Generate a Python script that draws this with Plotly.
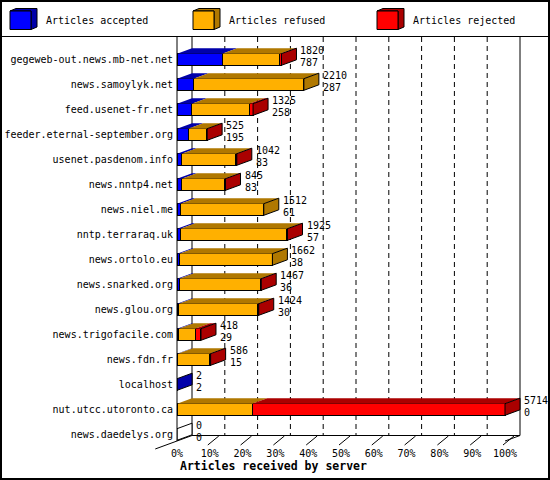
import plotly.graph_objects as go

# ---------------- data ----------------
categories = [
    "gegeweb-out.news.mb-net.net", "news.samoylyk.net", "feed.usenet-fr.net",
    "feeder.eternal-september.org", "usenet.pasdenom.info", "news.nntp4.net",
    "news.niel.me", "nntp.terraraq.uk", "news.ortolo.eu", "news.snarked.org",
    "news.glou.org", "news.trigofacile.com", "news.fdn.fr", "localhost",
    "nut.utcc.utoronto.ca", "news.daedelys.org",
]
accepted = [787, 287, 258, 195, 83, 83, 61, 57, 38, 36, 30, 29, 15, 2, 0, 0]
refused = [1007, 1923, 1002, 322, 940, 736, 1451, 1854, 1624, 1410, 1369, 285, 548, 0, 1312, 0]
rejected = [26, 0, 65, 8, 19, 26, 0, 14, 0, 21, 25, 104, 23, 0, 4402, 0]
totals = [1820, 2210, 1325, 525, 1042, 845, 1512, 1925, 1662, 1467, 1424, 418, 586, 2, 5714, 0]
tick_values = [0, 10, 20, 30, 40, 50, 60, 70, 80, 90, 100]
tick_labels = ["0%", "10%", "20%", "30%", "40%", "50%", "60%", "70%", "80%", "90%", "100%"]
series_names = ["Articles accepted", "Articles refused", "Articles rejected"]
x_title = "Articles received by server"

# ---------------- style ----------------
front_colors = ["#0000ff", "#ffb000", "#ff0000"]
dark_colors = ["#0000aa", "#b07800", "#aa0000"]
FONT = "DejaVu Sans Mono"

W, H = 550, 480
ML, MR, MT, MB = 177, 0, 37, 39
PX_PER_PCT = 3.28
PX_PER_ROW = 25.0
ROW0_PX = 59.5
X_MAX = (W - ML - MR) / PX_PER_PCT
Y_TOP = (MT - ROW0_PX) / PX_PER_ROW
Y_BOT = (H - MB - ROW0_PX) / PX_PER_ROW
DX = 15 / PX_PER_PCT
DY = -5.5 / PX_PER_ROW
HALF = 5.8 / PX_PER_ROW
FLOOR = Y_BOT + DY

SCALE_MAX = max(totals)


def pct(v):
    return v / SCALE_MAX * 100.0


def xp(x):  # data x -> paper
    return x / X_MAX


def yp(y):  # data y -> paper
    return (Y_BOT - y) / (Y_BOT - Y_TOP)


def pxx(px):  # pixel x -> paper
    return (px - ML) / (W - ML - MR)


def pxy(py):  # pixel y -> paper
    return (H - MB - py) / (H - MT - MB)


series = [accepted, refused, rejected]
rows = list(range(len(categories)))

fig = go.Figure()

# front faces as stacked bars
for k in range(3):
    fig.add_trace(go.Bar(
        orientation="h", y=rows, x=[pct(v) for v in series[k]],
        width=2 * HALF, name=series_names[k],
        marker=dict(color=front_colors[k], line=dict(color="black", width=1)),
        showlegend=False, hoverinfo="skip",
    ))

# top faces
for k in range(3):
    xs, ys = [], []
    for i in rows:
        s = sum(pct(series[j][i]) for j in range(k))
        w = pct(series[k][i])
        if w <= 0:
            continue
        top = i - HALF
        xs += [s, s + w, s + w + DX, s + DX, s, None]
        ys += [top, top, top + DY, top + DY, top, None]
    fig.add_trace(go.Scatter(x=xs, y=ys, mode="lines", fill="toself",
                             fillcolor=dark_colors[k], line=dict(width=0),
                             showlegend=False, hoverinfo="skip"))

# side faces (end of each bar)
side_groups = {}
for i in rows:
    e = sum(pct(series[j][i]) for j in range(3))
    last = None
    for j in range(3):
        if series[j][i] > 0:
            last = j
    col = dark_colors[last] if last is not None else "#ffffff"
    xs, ys = side_groups.setdefault(col, ([], []))
    xs += [e, e + DX, e + DX, e, e, None]
    ys += [i - HALF, i - HALF + DY, i + HALF + DY, i + HALF, i - HALF, None]
for col, (xs, ys) in side_groups.items():
    fig.add_trace(go.Scatter(x=xs, y=ys, mode="lines", fill="toself",
                             fillcolor=col, line=dict(color="black", width=1),
                             showlegend=False, hoverinfo="skip"))

# value labels
annotations = []
for i in rows:
    e = sum(pct(series[j][i]) for j in range(3))
    for txt, yy in ((str(totals[i]), i - 0.36), (str(accepted[i]), i + 0.1)):
        annotations.append(dict(x=e + DX, y=yy, xref="x", yref="y", text=txt,
                                showarrow=False, xanchor="left", yanchor="middle",
                                xshift=2, font=dict(family=FONT, size=10, color="black")))

# axis title
annotations.append(dict(x=pxx(273), y=pxy(466), xref="paper", yref="paper",
                        text="<b>" + x_title + "</b>", showarrow=False,
                        xanchor="center", yanchor="middle",
                        font=dict(family=FONT, size=11.5, color="black")))

shapes = []
line_k = dict(color="black", width=1)
# dashed grid on back wall
for t in tick_values[1:-1]:
    shapes.append(dict(type="line", xref="paper", yref="paper",
                       x0=xp(t + DX), x1=xp(t + DX), y0=1, y1=yp(FLOOR),
                       line=dict(color="black", width=1, dash="5px,4px"), layer="below"))
# back wall solid edges
for t in (0, 100):
    shapes.append(dict(type="line", xref="paper", yref="paper",
                       x0=xp(t + DX), x1=xp(t + DX), y0=1, y1=yp(FLOOR),
                       line=line_k, layer="below"))
# floor back line
shapes.append(dict(type="line", xref="paper", yref="paper",
                   x0=xp(DX), x1=xp(100 + DX), y0=yp(FLOOR), y1=yp(FLOOR),
                   line=line_k, layer="below"))
# front left axis
shapes.append(dict(type="line", xref="paper", yref="paper",
                   x0=0, x1=0, y0=1, y1=0, line=line_k))
# floor diagonals
shapes.append(dict(type="line", xref="paper", yref="paper",
                   x0=xp(100), x1=xp(100 + DX), y0=yp(Y_BOT), y1=yp(FLOOR), line=line_k))
shapes.append(dict(type="line", xref="paper", yref="paper",
                   x0=xp(-1.45 * DX), x1=xp(DX), y0=yp(Y_BOT - 1.45 * DY), y1=yp(FLOOR),
                   line=line_k))
# small floor ticks
for t in tick_values[1:]:
    shapes.append(dict(type="line", xref="paper", yref="paper",
                       x0=xp(t) - 2 / (W - ML - MR), x1=xp(t) + 9 / (W - ML - MR),
                       y0=pxy(445), y1=pxy(436), line=line_k))

# legend cubes
legend_x = [10, 193, 377]
legend_text_x = [44, 227, 411]
for k in range(3):
    x0 = legend_x[k]
    x1 = x0 + 21
    y0, y1 = 11, 29.5
    ddx, ddy = 6, -2.5
    shapes.append(dict(type="path", xref="paper", yref="paper",
                       path="M {},{} L {},{} L {},{} L {},{} L {},{} L {},{} Z".format(
                           pxx(x0), pxy(y0), pxx(x0 + ddx), pxy(y0 + ddy),
                           pxx(x1 + ddx), pxy(y0 + ddy), pxx(x1 + ddx), pxy(y1 + ddy),
                           pxx(x1), pxy(y1), pxx(x1), pxy(y0)),
                       fillcolor=dark_colors[k], line=line_k))
    shapes.append(dict(type="rect", xref="paper", yref="paper",
                       x0=pxx(x0), x1=pxx(x1), y0=pxy(y0), y1=pxy(y1),
                       fillcolor=front_colors[k], line=line_k))
    annotations.append(dict(x=pxx(legend_text_x[k]), y=pxy(20.5), xref="paper", yref="paper",
                            text=series_names[k], showarrow=False, xanchor="left",
                            yanchor="middle", font=dict(family=FONT, size=10, color="black")))

# separator and border
shapes.append(dict(type="line", xref="paper", yref="paper",
                   x0=pxx(0), x1=pxx(W), y0=pxy(36.5), y1=pxy(36.5), line=line_k))
shapes.append(dict(type="rect", xref="paper", yref="paper",
                   x0=pxx(1), x1=pxx(549), y0=pxy(1), y1=pxy(479),
                   line=dict(color="black", width=2)))

fig.update_layout(
    width=W, height=H, barmode="stack", bargap=0,
    margin=dict(l=ML, r=MR, t=MT, b=MB, pad=0),
    paper_bgcolor="white", plot_bgcolor="white",
    showlegend=False, shapes=shapes, annotations=annotations,
    font=dict(family=FONT, size=10, color="black"),
    xaxis=dict(range=[0, X_MAX], tickvals=tick_values, ticktext=tick_labels,
               showgrid=False, zeroline=False, showline=False, ticks="",
               automargin=False, fixedrange=True, ticklabelstandoff=5,
               tickfont=dict(family=FONT, size=10, color="black")),
    yaxis=dict(range=[Y_BOT, Y_TOP], tickvals=rows, ticktext=categories,
               showgrid=False, zeroline=False, showline=False, ticks="",
               automargin=False, fixedrange=True, ticklabelstandoff=3,
               tickfont=dict(family=FONT, size=10, color="black")),
)

fig.write_html("out.html", config={"displayModeBar": False, "staticPlot": True},
               post_script="document.body.style.margin='0';")
